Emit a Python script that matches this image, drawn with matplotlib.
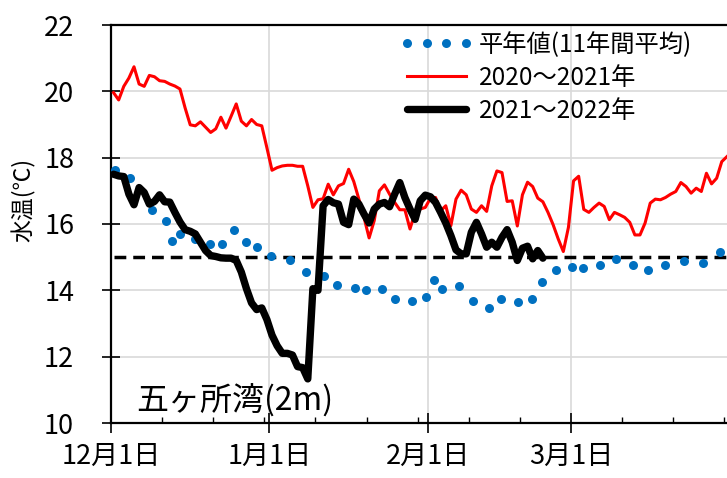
import numpy as np
import matplotlib
matplotlib.use("Agg")
import matplotlib.pyplot as plt

plt.rcParams['font.family'] = ['Noto Sans CJK JP', 'DejaVu Sans']

# ---- data (day index 0 = Dec 1) ----
month_ticks = [0, 31, 62, 90]
month_labels = ['12月1日', '1月1日', '2月1日', '3月1日']

series_labels = ['平年値(11年間平均)', '2020～2021年', '2021～2022年']
threshold = 15.0

# 11-year average (visible dots)
avg_days = [0.3, 3.2, 7.5, 10.2, 11.4, 13.0, 15.9, 18.9, 21.3, 23.6, 25.9, 28.1,
            30.9, 34.5, 37.7, 41.1, 43.7, 47.2, 49.3, 52.6, 55.0, 58.4, 61.1, 62.7,
            64.2, 67.5, 70.3, 73.5, 75.9, 79.2, 81.9, 83.8, 86.5, 89.6, 91.9, 95.2,
            98.4, 101.6, 104.5, 107.9, 111.7, 115.4, 118.7]
avg_temp = [17.63, 17.38, 16.43, 16.08, 15.50, 15.70, 15.55, 15.40, 15.39, 15.83,
            15.47, 15.32, 15.03, 14.90, 14.56, 14.42, 14.17, 14.07, 14.02, 14.05,
            13.75, 13.67, 13.80, 14.32, 14.05, 14.12, 13.67, 13.46, 13.75, 13.65,
            13.73, 14.24, 14.60, 14.71, 14.67, 14.77, 14.95, 14.77, 14.60, 14.77,
            14.89, 14.82, 15.15]

# 2020-2021 daily
temp_2020 = [19.96, 19.74, 20.15, 20.40, 20.74, 20.22, 20.15, 20.48, 20.44, 20.32,
             20.30, 20.22, 20.16, 20.07, 19.50, 18.99, 18.96, 19.08, 18.92, 18.76,
             18.87, 19.22, 18.89, 19.25, 19.62, 19.10, 18.96, 19.15, 19.00, 18.96,
             18.30, 17.62, 17.70, 17.75, 17.77, 17.77, 17.74, 17.74, 17.15, 16.50,
             16.73, 16.76, 17.20, 16.88, 17.15, 17.22, 17.65, 17.28, 16.75, 16.20,
             15.58, 16.10, 17.00, 17.18, 16.90, 16.65, 16.43, 16.43, 15.85, 16.35,
             16.45, 16.50, 16.78, 16.80, 16.40, 16.55, 15.95, 16.75, 17.02, 16.88,
             16.45, 16.35, 16.55, 16.38, 17.15, 17.60, 17.55, 16.68, 16.70, 15.94,
             16.88, 17.26, 17.13, 16.78, 16.67, 16.35, 15.98, 15.55, 15.17, 15.90,
             17.30, 17.44, 16.44, 16.35, 16.50, 16.63, 16.53, 16.13, 16.35, 16.28,
             16.20, 16.05, 15.67, 15.67, 16.03, 16.63, 16.75, 16.73, 16.80, 16.90,
             16.98, 17.25, 17.13, 16.93, 17.08, 16.98, 17.53, 17.21, 17.38, 17.88,
             18.03]

# 2021-2022 daily
temp_2021 = [17.50, 17.45, 17.43, 16.90, 16.58, 17.10, 16.95, 16.60, 16.68, 16.88,
             16.67, 16.66, 16.35, 16.06, 15.83, 15.78, 15.70, 15.45, 15.20, 15.05,
             15.02, 14.98, 14.97, 14.97, 14.90, 14.55, 14.05, 13.62, 13.42, 13.47,
             13.12, 12.65, 12.33, 12.10, 12.10, 12.05, 11.70, 11.67, 11.33, 14.05,
             14.00, 16.55, 16.74, 16.64, 16.60, 16.05, 15.98, 16.75, 16.60, 16.30,
             16.03, 16.45, 16.60, 16.65, 16.52, 16.90, 17.25, 16.80, 16.45, 16.14,
             16.70, 16.87, 16.82, 16.65, 16.35, 16.03, 15.65, 15.22, 15.10, 15.10,
             15.75, 16.05, 15.70, 15.30, 15.45, 15.30, 15.60, 15.83, 15.45, 14.90,
             15.27, 15.33, 14.95, 15.20, 14.97]

# ---- figure ----
W, H = 727, 478
fig = plt.figure(figsize=(W / 100, H / 100), dpi=100)
x_end = 121
px_per_day = 5.111
ax = fig.add_axes([111 / W, 55 / H, (x_end * px_per_day) / W, 398 / H])

mid = 0.5  # Excel date axis: values sit in the middle of each day
d2020 = np.arange(len(temp_2020)) + mid
d2021 = np.arange(len(temp_2021)) + mid
davg = np.array(avg_days) + mid

ax.plot(d2020, [threshold] * len(d2020), color='black', lw=2.5,
        dashes=[3.4, 2.0], dash_capstyle='butt', zorder=2)
ax.plot(d2020, temp_2020, color='#ff0000', lw=2.2, solid_joinstyle='round',
        label=series_labels[1], zorder=3)
ax.plot(davg, avg_temp, linestyle='none', marker='o', markersize=6.5,
        color='#0070c0', markeredgewidth=0, label=series_labels[0], zorder=4)
ax.plot(d2021, temp_2021, color='black', lw=5.3, solid_joinstyle='round',
        solid_capstyle='round', label=series_labels[2], zorder=5)

ax.set_xlim(0, x_end)
ax.set_ylim(10, 22)
ax.set_yticks(np.arange(10, 23, 2))
ax.set_xticks(month_ticks)
ax.set_xticklabels(month_labels)
ax.set_xticks(np.arange(0, 121, 10), minor=True)

ax.grid(axis='y', which='major', color='#d9d9d9', lw=1.2, zorder=0)
ax.grid(axis='x', which='major', color='#d9d9d9', lw=1.2, zorder=0)
ax.set_axisbelow(True)

for s in ax.spines.values():
    s.set_linewidth(1.6)
    s.set_color('black')

ax.tick_params(axis='y', which='major', direction='inout', length=13, width=1.2,
               labelsize=19.5, pad=20)
ax.tick_params(axis='x', which='major', direction='inout', length=14, width=1.2,
               labelsize=19.5, pad=7)
ax.tick_params(axis='x', which='minor', direction='in', length=4.5, width=1.0)

fig.text(24 / W, 1 - 200 / H, '水温(℃)', rotation=90, ha='center', va='center',
         fontsize=16.5)

ax.text(5.0, 10.65, '五ヶ所湾(2m)', fontsize=23, ha='left', va='center', zorder=6)

handles, labels = ax.get_legend_handles_labels()
order = [labels.index(l) for l in series_labels]
ax.legend([handles[i] for i in order], [labels[i] for i in order],
          loc='upper left', bbox_to_anchor=(400 / W, 1 - 32 / H),
          bbox_transform=fig.transFigure, frameon=False, fontsize=17.5,
          numpoints=4, handlelength=3.0, handletextpad=0.25, labelspacing=0.28,
          borderaxespad=0, borderpad=0)

fig.savefig('out.png', dpi=100)
